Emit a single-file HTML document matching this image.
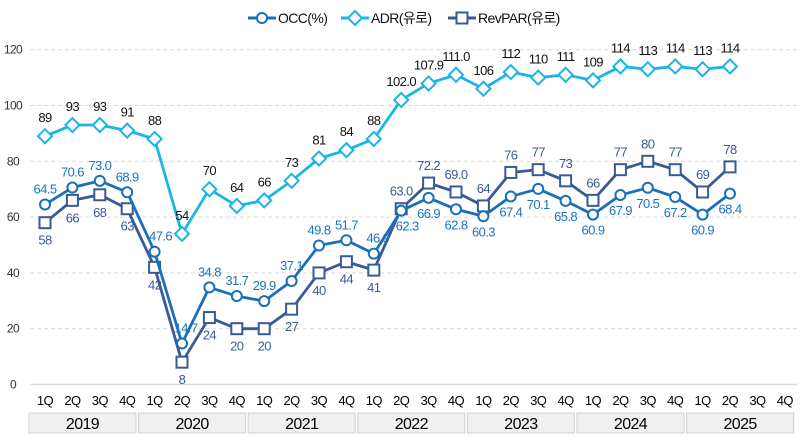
<!DOCTYPE html>
<html><head><meta charset="utf-8"><style>
body{margin:0;background:#fff}
svg{font-family:"Liberation Sans","Noto Sans CJK KR",sans-serif;display:block}
</style></head><body>
<svg id="c" width="800" height="446" viewBox="0 0 800 446"></svg>
<script>
const years=['2019','2020','2021','2022','2023','2024','2025'];
const quarters=['1Q','2Q','3Q','4Q'];
const occ=[64.5,70.6,73.0,68.9,47.6,14.7,34.8,31.7,29.9,37.1,49.8,51.7,46.9,62.3,66.9,62.8,60.3,67.4,70.1,65.8,60.9,67.9,70.5,67.2,60.9,68.4];
const adr=[89,93,93,91,88,54,70,64,66,73,81,84,88,102.0,107.9,111.0,106,112,110,111,109,114,113,114,113,114];
const revpar=[58,66,68,63,42,8,24,20,20,27,40,44,41,63.0,72.2,69.0,64,76,77,73,66,77,80,77,69,78];
const occLbl=['64.5','70.6','73.0','68.9','47.6','14.7','34.8','31.7','29.9','37.1','49.8','51.7','46.9','62.3','66.9','62.8','60.3','67.4','70.1','65.8','60.9','67.9','70.5','67.2','60.9','68.4'];
const adrLbl=['89','93','93','91','88','54','70','64','66','73','81','84','88','102.0','107.9','111.0','106','112','110','111','109','114','113','114','113','114'];
const revLbl=['58','66','68','63','42','8','24','20','20','27','40','44','41','63.0','72.2','69.0','64','76','77','73','66','77','80','77','69','78'];
const yTicks=[0,20,40,60,80,100,120];
const NS='http://www.w3.org/2000/svg';
const svg=document.getElementById('c');
const X=i=>45+i*27.4;
const Y=v=>384.5-v*2.79;
function el(t,a,p){const e=document.createElementNS(NS,t);for(const k in a)e.setAttribute(k,a[k]);(p||svg).appendChild(e);return e;}
function txt(x,y,s,a){const e=el('text',Object.assign({x:x,y:y,'text-anchor':'middle','font-size':13,'letter-spacing':'-0.6'},a||{}));e.textContent=s;return e;}
yTicks.forEach(v=>{
 const g=el('line',{x1:30,x2:797,y1:Y(v),y2:Y(v),stroke:'#d9d9d9','stroke-width':v===0?1.5:1,'stroke-dasharray':v===0?'':'4,3'});
 
 
 const t=txt(13,Y(v)+4,String(v),{'font-size':12,fill:'#333'});
 
 
});
years.forEach((yr,yi)=>{
 quarters.forEach((q,qi)=>{
  const t=txt(X(yi*4+qi),405,q,{'font-size':13,fill:'#000'});
  
  
 });
 const x0=X(yi*4)-17, w=107;
 const r=el('rect',{x:x0+1,y:413,width:w,height:20,fill:'#f0f0f0',stroke:'#d0d0d0'});
 
 
 const t=txt(x0+1+w/2,429,yr,{'font-size':16,fill:'#000'});
 
 
});
function series(vals,color,marker,name){
 const pts=vals.map((v,i)=>X(i)+','+Y(v)).join(' ');
 const l=el('polyline',{points:pts,fill:'none',stroke:color,'stroke-width':2.8,'stroke-linejoin':'round'});
 
 
 vals.forEach((v,i)=>{
  let m;
  if(marker==='c')m=el('circle',{cx:X(i),cy:Y(v),r:5,fill:'#fff',stroke:color,'stroke-width':2});
  else if(marker==='s')m=el('rect',{x:X(i)-5.5,y:Y(v)-5.5,width:11,height:11,fill:'#fff',stroke:color,'stroke-width':2});
  else m=el('polygon',{points:`${X(i)},${Y(v)-7} ${X(i)+7},${Y(v)} ${X(i)},${Y(v)+7} ${X(i)-7},${Y(v)}`,fill:'#fff',stroke:color,'stroke-width':2});
  
  
 });
}
series(revpar,'#3a5a95','s','revpar');
series(occ,'#1a6fb8','c','occ');
series(adr,'#1ab4e6','d','adr');
const occDx={4:6,5:4,12:4,13:6};
adr.forEach((v,i)=>{const t=txt(X(i),Y(v)-14,adrLbl[i],{fill:'#111'});
 });
occ.forEach((v,i)=>{const below=i>=13;const t=txt(X(i)+(occDx[i]||0),below?Y(v)+20:Y(v)-11,occLbl[i],{fill:'#1a73c0'});
 });
revpar.forEach((v,i)=>{const above=i>=13;const t=txt(X(i),above?Y(v)-13:Y(v)+22,revLbl[i],{fill:'#3a5a95'});
 });
const leg=[['OCC(%)','#1a6fb8','c',248],['ADR(유로)','#1ab4e6','d',341],['RevPAR(유로)','#3a5a95','s',448]];
leg.forEach(([n,c,m,x])=>{
 const g=el('g',{});
 
 
 el('line',{x1:x,x2:x+28,y1:18,y2:18,stroke:c,'stroke-width':3},g);
 const cx=x+14;
 if(m==='c')el('circle',{cx:cx,cy:18,r:5,fill:'#fff',stroke:c,'stroke-width':2},g);
 else if(m==='s')el('rect',{x:cx-5.5,y:12.5,width:11,height:11,fill:'#fff',stroke:c,'stroke-width':2},g);
 else el('polygon',{points:`${cx},11 ${cx+7},18 ${cx},25 ${cx-7},18`,fill:'#fff',stroke:c,'stroke-width':2},g);
 const t=el('text',{x:x+30,y:23,'font-size':14,'letter-spacing':'-0.6',fill:'#111'},g);t.textContent=n;
});
</script>
</body></html>
